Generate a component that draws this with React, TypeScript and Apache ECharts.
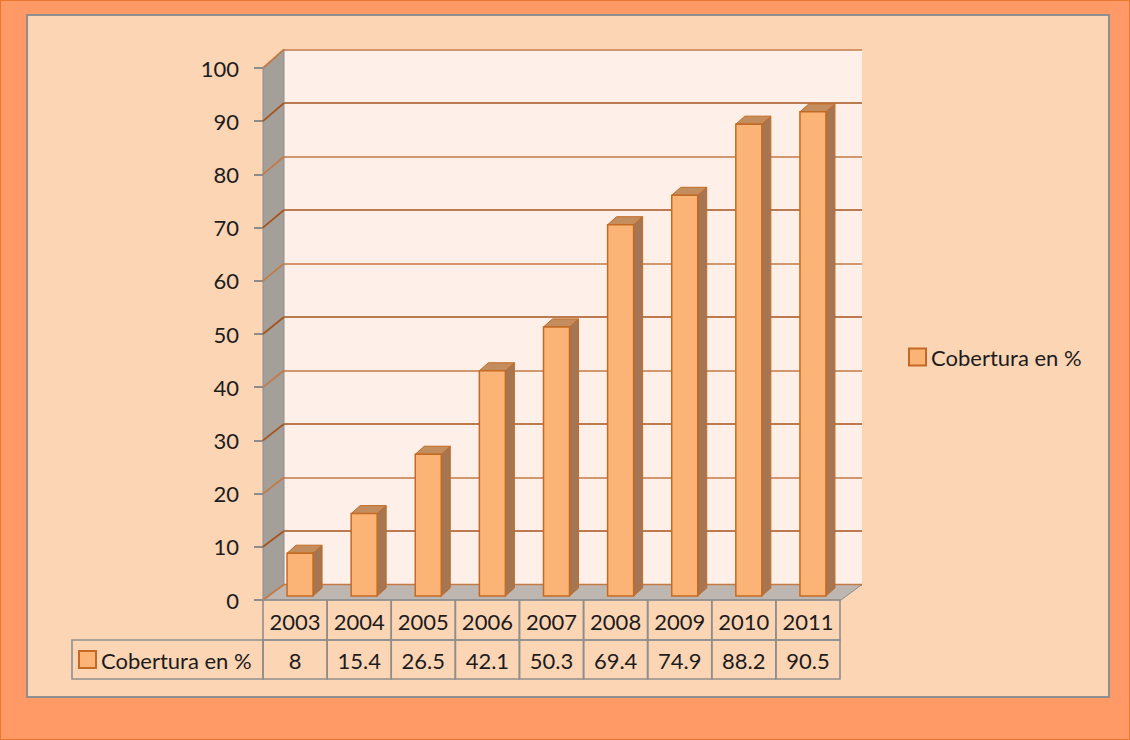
import React, { useEffect, useRef } from "react";
import * as echarts from "echarts";

const years = ["2003", "2004", "2005", "2006", "2007", "2008", "2009", "2010", "2011"];
const coverage = [8, 15.4, 26.5, 42.1, 50.3, 69.4, 74.9, 88.2, 90.5];
const seriesName = "Cobertura en %";
const yTicks = [0, 10, 20, 30, 40, 50, 60, 70, 80, 90, 100];

const FONT = "Lato";
const FS = 22;
const TEXT = "#1c1c1c";
const GRID_COLORS = ["#C27A47", "#A5531D"];
const BAR_FRONT = "#FBB476";
const BAR_SIDE = "#A67551";
const BAR_TOP = "#C48D5E";
const BAR_EDGE = "#C46A24";
const TABLE_LINE = "#8E8E8E";

export default function App() {
  const ref = useRef<HTMLDivElement>(null);
  useEffect(() => {
    if (!ref.current) return;
    const chart = echarts.init(ref.current, undefined, { renderer: "svg" });
    const off = (v: number) => [-21, 15.5 + (3 * v) / 100];

    const option: any = {
      animation: false,
      grid: [
        { left: 263, top: 68, width: 577, height: 532 },
        { left: 284, top: 49.5, width: 578, height: 535, show: true, backgroundColor: "#FEF0E8", borderWidth: 0 },
        { left: 268, top: 61, width: 577, height: 535 },
      ],
      xAxis: [
        { gridIndex: 0, type: "category", data: years, show: false },
        { gridIndex: 1, type: "value", min: 0, max: 9, show: false },
        { gridIndex: 2, type: "category", data: years, show: false },
      ],
      yAxis: [
        {
          gridIndex: 0, type: "value", min: 0, max: 100, interval: 10,
          axisLine: { show: false },
          axisTick: { show: true, length: 9, lineStyle: { color: "#8C8C8C", width: 2 } },
          axisLabel: { margin: 24, fontSize: FS, fontFamily: FONT, color: TEXT },
          splitLine: { show: false },
        },
        {
          gridIndex: 1, type: "value", min: 0, max: 100, interval: 10,
          axisLine: { show: false }, axisTick: { show: false }, axisLabel: { show: false },
          splitLine: { show: true, lineStyle: { color: GRID_COLORS, width: 1.7 } },
        },
        { gridIndex: 2, type: "value", min: 0, max: 100, show: false },
      ],
      legend: {
        left: 908, top: 346, padding: 0, itemWidth: 17, itemHeight: 17, itemGap: 10,
        textStyle: { fontSize: FS, fontFamily: FONT, color: TEXT },
        data: [{ name: seriesName, icon: "rect", itemStyle: { color: BAR_FRONT, borderColor: BAR_EDGE, borderWidth: 2 } }],
      },
      series: [
        {
          type: "custom", name: "walls", xAxisIndex: 1, yAxisIndex: 1, silent: true, z: 1,
          data: [[0, 0]],
          renderItem: (params: any, api: any) => {
            const bl = api.coord([0, 0]);
            const tl = api.coord([0, 100]);
            const br = api.coord([9, 0]);
            const add = (p: number[], v: number) => [p[0] + off(v)[0], p[1] + off(v)[1]];
            const children: any[] = [
              { type: "polygon", shape: { points: [tl, bl, add(bl, 0), add(tl, 100)] }, style: { fill: "#A59F9A", stroke: "#8C8C8C", lineWidth: 1 } },
              { type: "polygon", shape: { points: [bl, br, add(br, 0), add(bl, 0)] }, style: { fill: "#BEB6B1", stroke: "#8C8C8C", lineWidth: 1 } },
              { type: "line", shape: { x1: bl[0], y1: bl[1], x2: br[0], y2: br[1] }, style: { stroke: GRID_COLORS[0], lineWidth: 1.7 } },
            ];
            yTicks.forEach((v, i) => {
              const p = api.coord([0, v]);
              const q = add(p, v);
              children.push({ type: "line", shape: { x1: p[0], y1: p[1], x2: q[0], y2: q[1] }, style: { stroke: GRID_COLORS[i % 2], lineWidth: 1.7 } });
            });
            return { type: "group", children };
          },
        },
        {
          type: "custom", name: seriesName, xAxisIndex: 2, yAxisIndex: 2, z: 3,
          itemStyle: { color: BAR_FRONT, borderColor: BAR_EDGE, borderWidth: 2 },
          data: coverage.map((v, i) => [i, v]),
          encode: { x: 0, y: 1 },
          renderItem: (params: any, api: any) => {
            const i = api.value(0);
            const v = api.value(1);
            const top = api.coord([i, v]);
            const base = api.coord([i, 0]);
            const w = 26, dx = 9, dy = -8;
            const x0 = top[0] - w / 2, x1 = top[0] + w / 2;
            return {
              type: "group",
              children: [
                { type: "polygon", shape: { points: [[x1, top[1]], [x1 + dx, top[1] + dy], [x1 + dx, base[1] + dy], [x1, base[1]]] }, style: { fill: BAR_SIDE, stroke: BAR_EDGE, lineWidth: 1 } },
                { type: "polygon", shape: { points: [[x0, top[1]], [x0 + dx, top[1] + dy], [x1 + dx, top[1] + dy], [x1, top[1]]] }, style: { fill: BAR_TOP, stroke: BAR_EDGE, lineWidth: 1 } },
                { type: "rect", shape: { x: x0, y: top[1], width: w, height: base[1] - top[1] }, style: { fill: BAR_FRONT, stroke: BAR_EDGE, lineWidth: 1.5 } },
              ],
            };
          },
        },
        {
          type: "custom", name: "table", xAxisIndex: 0, yAxisIndex: 0, silent: true, z: 2,
          data: coverage.map((v, i) => [i, v]),
          renderItem: (params: any, api: any) => {
            const i = api.value(0);
            const v = api.value(1);
            const c = api.coord([i, 0]);
            const bw = api.size([1, 0])[0];
            const x0 = c[0] - bw / 2;
            const y0 = c[1];
            const h1 = 40, h2 = 39;
            const lineStyle = { fill: "none", stroke: TABLE_LINE, lineWidth: 1.6 };
            const txt = (t: string, x: number, y: number, align = "center") => ({
              type: "text", x, y,
              style: { text: t, fontSize: FS, fontFamily: FONT, fill: TEXT, align, verticalAlign: "middle" },
            });
            const children: any[] = [
              { type: "rect", shape: { x: x0, y: y0, width: bw, height: h1 }, style: lineStyle },
              { type: "rect", shape: { x: x0, y: y0 + h1, width: bw, height: h2 }, style: lineStyle },
              txt(years[i], c[0], y0 + h1 / 2 + 1),
              txt(String(v), c[0], y0 + h1 + h2 / 2 + 1),
            ];
            if (i === 0) {
              const lx = 72;
              children.push(
                { type: "rect", shape: { x: lx, y: y0 + h1, width: x0 - lx, height: h2 }, style: lineStyle },
                { type: "rect", shape: { x: lx + 7, y: y0 + h1 + 11, width: 17, height: 17 }, style: { fill: BAR_FRONT, stroke: BAR_EDGE, lineWidth: 2 } },
                txt(seriesName, lx + 29, y0 + h1 + h2 / 2 + 1, "left"),
              );
            }
            return { type: "group", children };
          },
        },
      ],
    };
    chart.setOption(option);
    return () => chart.dispose();
  }, []);

  return (
    <div style={{ position: "absolute", left: 0, top: 0, width: 1130, height: 740, background: "#FF9966", boxSizing: "border-box", border: "1.5px solid #E9782E" }}>
      <div style={{ position: "absolute", left: 25, top: 12.5, width: 1084, height: 684, background: "#FCD5B5", boxSizing: "border-box", border: "2px solid #8F8F8F" }} />
      <div ref={ref} style={{ position: "absolute", left: -1.5, top: -1.5, width: 1130, height: 740 }} />
    </div>
  );
}
